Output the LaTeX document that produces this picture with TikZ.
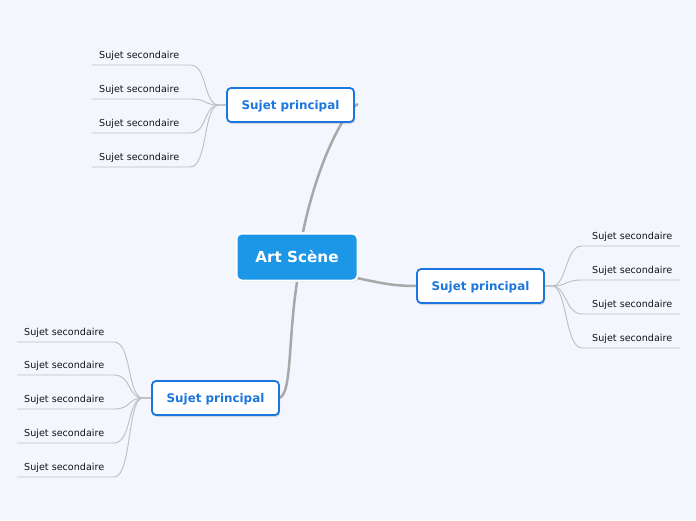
\documentclass[tikz,border=0pt]{standalone}
\usepackage{fontspec}
\setmainfont{DejaVu Sans}
\usetikzlibrary{shadows}
\definecolor{bg}{RGB}{243,246,253}
\definecolor{central}{RGB}{28,151,232}
\definecolor{mainblue}{RGB}{27,118,222}
\definecolor{thick}{RGB}{168,168,168}
\definecolor{thin}{RGB}{190,190,190}
\definecolor{txt}{RGB}{20,20,20}
\begin{document}
\begin{tikzpicture}[x=1pt,y=-1pt,
  centralbox/.style={rectangle,rounded corners=5pt,fill=central,draw=white,line width=2pt,
    minimum width=121pt,minimum height=47pt,text=white,font=\fontsize{15.2}{16}\selectfont\bfseries,
    drop shadow={opacity=0.2,shadow xshift=1pt,shadow yshift=-1.5pt}},
  mainbox/.style={rectangle,rounded corners=4pt,fill=white,draw=mainblue,line width=1.8pt,
    minimum width=127pt,minimum height=34pt,text=mainblue,font=\fontsize{11.9}{13}\selectfont\bfseries,
    text height=9pt,text depth=0.8pt,
    drop shadow={opacity=0.25,shadow xshift=1pt,shadow yshift=-2pt}},
  sublabel/.style={anchor=base west,inner sep=0pt,text=txt,font=\fontsize{9.6}{11}\selectfont},
  thickline/.style={draw=thick,line width=2.5pt},
  thinline/.style={draw=thin,line width=0.9pt}]
\useasboundingbox[fill=bg] (0,0) rectangle (696,520);

% coordinates for connector ends
\coordinate (cT) at (303,232);
\coordinate (cR) at (357,278);
\coordinate (cB) at (297,282);
\coordinate (Tend) at (358,104);
\coordinate (Rend) at (418,286);
\coordinate (Bend) at (279,398);
\coordinate (Tj) at (219,105);
\coordinate (Rj) at (552,286);
\coordinate (Bj) at (143,398);

% main connectors
\draw[thickline] (cT) .. controls (318,160) and (345,110) .. (Tend);
\draw[thickline] (cR) .. controls (385,284) and (395,286) .. (Rend);
\draw[thickline] (cB) .. controls (288,340) and (292,395) .. (Bend);

% top-left secondary
\foreach \i/\y in {1/65,2/99,3/133,4/167}{
  \coordinate (ta\i) at (92,\y);
  \coordinate (tb\i) at (190,\y);
  \node[sublabel] (t\i) at (99,\y-7) {Sujet secondaire};
  \draw[thinline] (ta\i) -- (tb\i) .. controls (208,\y) and (203,105) .. (Tj) -- (227,105);
}
% right secondary
\foreach \i/\y in {1/246,2/280,3/314,4/348}{
  \coordinate (ra\i) at (582,\y);
  \coordinate (rb\i) at (680,\y);
  \node[sublabel] (r\i) at (592,\y-7) {Sujet secondaire};
  \draw[thinline] (544,286) -- (Rj) .. controls (567,286) and (565,\y) .. (ra\i) -- (rb\i);
}
% bottom-left secondary
\foreach \i/\y in {1/342,2/375,3/409,4/443,5/477}{
  \coordinate (ba\i) at (17,\y);
  \coordinate (bb\i) at (114,\y);
  \node[sublabel] (b\i) at (24,\y-7) {Sujet secondaire};
  \draw[thinline] (ba\i) -- (bb\i) .. controls (132,\y) and (127,398) .. (Bj) -- (152,398);
}

% nodes
\node[centralbox] (C) at (297,257) {Art Scène};
\node[mainbox] (T) at (290.5,105) {Sujet principal};
\node[mainbox] (R) at (480.5,286) {Sujet principal};
\node[mainbox] (B) at (215.5,398) {Sujet principal};
\end{tikzpicture}
\end{document}
